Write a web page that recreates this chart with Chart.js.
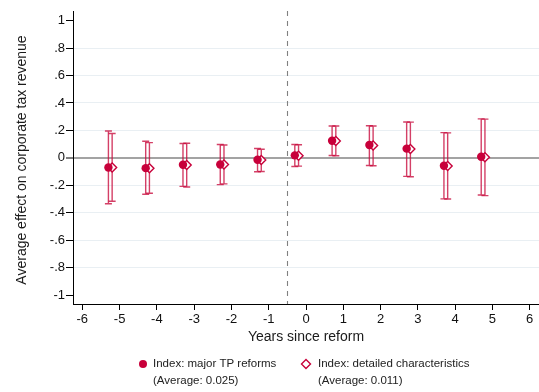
<!DOCTYPE html>
<html>
<head>
<meta charset="utf-8">
<script src="https://cdn.jsdelivr.net/npm/chart.js@4.4.1/dist/chart.umd.min.js"></script>
<style>
  html, body { margin: 0; padding: 0; background: #fff; }
  #wrap { width: 539px; height: 392px; position: relative; }
</style>
</head>
<body>
<div id="wrap"><canvas id="c" width="539" height="392"></canvas></div>
<script>
// Event time relative to the reform year
const years = [-5, -4, -3, -2, -1, 0, 1, 2, 3, 4, 5];

// Index: major TP reforms — point estimates and 95% bounds
const majorCoef = [-0.070, -0.075, -0.050, -0.048, -0.014, 0.018, 0.125, 0.094, 0.067, -0.058, 0.008];
const majorLow  = [-0.335, -0.265, -0.208, -0.195, -0.101, -0.063, 0.017, -0.056, -0.135, -0.299, -0.271];
const majorHigh = [0.196, 0.121, 0.104, 0.097, 0.068, 0.097, 0.232, 0.234, 0.261, 0.184, 0.284];

// Index: detailed characteristics — point estimates and 95% bounds
const detailCoef = [-0.070, -0.075, -0.052, -0.048, -0.016, 0.015, 0.122, 0.090, 0.065, -0.060, 0.005];
const detailLow  = [-0.316, -0.258, -0.213, -0.190, -0.099, -0.060, 0.015, -0.058, -0.138, -0.300, -0.275];
const detailHigh = [0.177, 0.111, 0.106, 0.094, 0.063, 0.095, 0.232, 0.232, 0.260, 0.182, 0.282];

const legendLabels = [
  ['Index: major TP reforms', '(Average: 0.025)'],
  ['Index: detailed characteristics', '(Average: 0.011)']
];

const yTicks = [-1, -0.8, -0.6, -0.4, -0.2, 0, 0.2, 0.4, 0.6, 0.8, 1];
const xTicks = [-6, -5, -4, -3, -2, -1, 0, 1, 2, 3, 4, 5, 6];
const reformLine = -0.5;

// horizontal shift of each series so the two estimates sit side by side
const shiftMajor = -0.3;
const shiftDetail = -0.2;

const RED = '#c8003a';
const BAR = 'rgba(200, 10, 60, 0.78)';
const FONT = '"Liberation Sans", Arial, sans-serif';

const pts = (coef, shift) => years.map((t, i) => ({ x: t + shift, y: coef[i] }));

function fmt(v) {
  const r = Math.round(v * 10) / 10;
  if (r === 0) return '0';
  if (Math.abs(r) === 1) return String(r);
  return (r < 0 ? '-' : '') + String(Math.abs(r)).replace(/^0/, '');
}

const overlay = {
  id: 'overlay',
  beforeDatasetsDraw(chart) {
    const { ctx, chartArea, scales: { x, y } } = chart;
    ctx.save();
    // dashed reform line
    ctx.strokeStyle = '#808080';
    ctx.lineWidth = 1.1;
    ctx.setLineDash([5, 5]);
    const px = Math.round(x.getPixelForValue(reformLine)) + 0.5;
    ctx.beginPath();
    ctx.moveTo(px, chartArea.top);
    ctx.lineTo(px, chartArea.bottom);
    ctx.stroke();
    ctx.setLineDash([]);

    // capped confidence intervals
    const series = [
      [detailLow, detailHigh, shiftDetail],
      [majorLow, majorHigh, shiftMajor]
    ];
    ctx.strokeStyle = BAR;
    ctx.lineWidth = 1.4;
    const cap = 3.5;
    series.forEach(([lo, hi, shift]) => {
      years.forEach((t, i) => {
        const cx = x.getPixelForValue(t + shift);
        const y1 = y.getPixelForValue(hi[i]);
        const y2 = y.getPixelForValue(lo[i]);
        ctx.beginPath();
        ctx.moveTo(cx, y1); ctx.lineTo(cx, y2);
        ctx.moveTo(cx - cap, y1); ctx.lineTo(cx + cap, y1);
        ctx.moveTo(cx - cap, y2); ctx.lineTo(cx + cap, y2);
        ctx.stroke();
      });
    });
    ctx.restore();
  },
  afterDraw(chart) {
    const { ctx, chartArea } = chart;
    ctx.save();
    ctx.fillStyle = '#1a1a1a';
    // axis titles
    ctx.font = '14px ' + FONT;
    ctx.textAlign = 'center';
    ctx.textBaseline = 'middle';
    ctx.fillText('Years since reform', (chartArea.left + chartArea.right) / 2, 337);
    ctx.save();
    ctx.translate(22, 160);
    ctx.rotate(-Math.PI / 2);
    ctx.fillText('Average effect on corporate tax revenue', 0, 0);
    ctx.restore();

    // legend
    ctx.font = '11.5px ' + FONT;
    ctx.textAlign = 'left';
    const rows = [364, 381];
    // filled circle
    ctx.beginPath();
    ctx.arc(143, rows[0], 4, 0, Math.PI * 2);
    ctx.fillStyle = RED;
    ctx.fill();
    ctx.fillStyle = '#222';
    ctx.fillText(legendLabels[0][0], 153, rows[0]);
    ctx.fillText(legendLabels[0][1], 153, rows[1]);
    // hollow diamond
    ctx.beginPath();
    ctx.moveTo(306, rows[0] - 4.5);
    ctx.lineTo(310.5, rows[0]);
    ctx.lineTo(306, rows[0] + 4.5);
    ctx.lineTo(301.5, rows[0]);
    ctx.closePath();
    ctx.strokeStyle = RED;
    ctx.lineWidth = 1.4;
    ctx.stroke();
    ctx.fillText(legendLabels[1][0], 318, rows[0]);
    ctx.fillText(legendLabels[1][1], 318, rows[1]);
    ctx.restore();
  }
};

new Chart(document.getElementById('c'), {
  type: 'scatter',
  data: {
    datasets: [
      {
        label: legendLabels[0].join(' '),
        data: pts(majorCoef, shiftMajor),
        pointStyle: 'circle',
        pointRadius: 4.2,
        pointBackgroundColor: RED,
        pointBorderColor: RED,
        pointBorderWidth: 0
      },
      {
        label: legendLabels[1].join(' '),
        data: pts(detailCoef, shiftDetail),
        pointStyle: 'rectRot',
        pointRadius: 4.5,
        pointBackgroundColor: '#ffffff',
        pointBorderColor: RED,
        pointBorderWidth: 1.4
      }
    ]
  },
  options: {
    responsive: false,
    animation: false,
    events: [],
    layout: { autoPadding: false, padding: { top: 11, right: 0, left: 0, bottom: 0 } },
    plugins: { legend: { display: false }, tooltip: { enabled: false } },
    scales: {
      x: {
        type: 'linear',
        min: -6.25,
        max: 6.25,
        afterFit(s) { s.height = 88; s.paddingLeft = 0; s.paddingRight = 0; },
        afterBuildTicks(s) { s.ticks = xTicks.map(v => ({ value: v })); },
        grid: { display: true, drawOnChartArea: false, tickLength: 6, tickColor: '#000', tickWidth: 1 },
        border: { color: '#000', width: 1 },
        ticks: { color: '#111', padding: 2, font: { family: FONT, size: 13 }, callback: v => String(v), maxRotation: 0, autoSkip: false }
      },
      y: {
        type: 'linear',
        min: -1.065,
        max: 1.07,
        afterFit(s) { s.width = 73; s.paddingTop = 0; s.paddingBottom = 0; },
        afterBuildTicks(s) { s.ticks = yTicks.map(v => ({ value: v })); },
        grid: {
          color: c => {
            const v = c.tick ? c.tick.value : null;
            if (v === 0) return '#a3a3a3';
            if (v === 1 || v === -1) return 'rgba(0,0,0,0)';
            return '#e9eff3';
          },
          lineWidth: c => (c.tick && c.tick.value === 0 ? 2 : 1),
          tickLength: 7,
          tickColor: '#000',
          tickWidth: 1
        },
        border: { color: '#000', width: 1 },
        ticks: { color: '#111', padding: 1, font: { family: FONT, size: 13 }, callback: v => fmt(v), autoSkip: false }
      }
    }
  },
  plugins: [overlay]
});
</script>
</body>
</html>
